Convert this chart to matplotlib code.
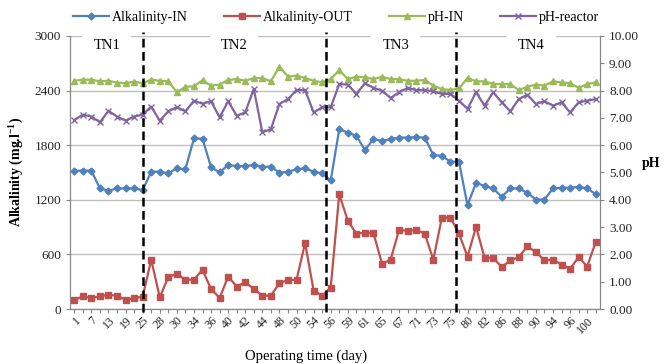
#!/usr/bin/env python3
"""Alkalinity and pH over operating time, phases TN1-TN4"""

import matplotlib
matplotlib.use('Agg')
import matplotlib.pyplot as plt
from matplotlib.ticker import FormatStrFormatter

plt.rcParams['font.family'] = ['Liberation Serif', 'DejaVu Serif']
plt.rcParams['mathtext.default'] = 'regular'

# sampling days (every other one is labelled on the axis)
days = [1, 4, 7, 10, 13, 16, 19, 22, 25, 26, 28, 29, 30, 32, 34, 35, 36, 38,
        40, 41, 42, 43, 44, 46, 48, 49, 50, 52, 54, 55, 56, 57, 59, 60, 61, 63,
        65, 66, 67, 69, 71, 72, 73, 74, 75, 78, 80, 81, 82, 84, 86, 87, 88, 89,
        90, 92, 94, 95, 96, 98, 100, 101]

alk_in = [1520, 1520, 1520, 1325, 1299, 1325, 1325, 1325, 1306, 1509, 1509, 1490,
          1546, 1535, 1875, 1872, 1557, 1501, 1582, 1571, 1571, 1582, 1564, 1564,
          1498, 1509, 1535, 1546, 1509, 1490, 1413, 1976, 1939, 1903, 1748, 1866,
          1847, 1866, 1884, 1884, 1888, 1884, 1693, 1682, 1619, 1619, 1141, 1387,
          1351, 1325, 1233, 1325, 1325, 1277, 1203, 1203, 1325, 1332, 1332, 1343,
          1325, 1262]

alk_out = [99, 140, 121, 140, 155, 147, 99, 121, 136, 541, 129, 350, 386, 320, 324,
           431, 221, 121, 357, 247, 294, 221, 147, 147, 283, 320, 320, 725, 202, 147,
           235, 1262, 968, 828, 839, 835, 497, 541, 872, 857, 872, 828, 541, 1005,
           1005, 830, 575, 902, 563, 563, 460, 534, 570, 688, 626, 534, 541, 489,
           442, 570, 467, 736]

ph_in = [8.36, 8.40, 8.40, 8.34, 8.36, 8.29, 8.27, 8.33, 8.27, 8.40, 8.36, 8.34,
         7.94, 8.14, 8.16, 8.38, 8.18, 8.22, 8.39, 8.42, 8.36, 8.46, 8.46, 8.34,
         8.88, 8.51, 8.55, 8.46, 8.36, 8.30, 8.42, 8.75, 8.42, 8.51, 8.49, 8.42,
         8.51, 8.42, 8.42, 8.36, 8.36, 8.39, 8.18, 8.06, 8.02, 8.08, 8.46, 8.34,
         8.34, 8.24, 8.24, 8.24, 8.02, 8.14, 8.22, 8.18, 8.34, 8.30, 8.27, 8.10,
         8.24, 8.30]

ph_reactor = [6.92, 7.12, 7.05, 6.84, 7.26, 7.05, 6.90, 7.05, 7.12, 7.41, 6.90, 7.24,
              7.39, 7.24, 7.63, 7.52, 7.61, 7.02, 7.61, 7.08, 7.20, 8.06, 6.47, 6.59,
              7.51, 7.69, 8.02, 8.02, 7.20, 7.39, 7.39, 8.24, 8.22, 7.88, 8.27, 8.10,
              8.00, 7.73, 7.94, 8.10, 8.02, 8.02, 7.97, 7.88, 7.88, 7.63, 7.33, 7.94,
              7.45, 7.94, 7.57, 7.24, 7.69, 7.85, 7.51, 7.61, 7.45, 7.57, 7.20, 7.57,
              7.63, 7.69]

phase_names = ['TN1', 'TN2', 'TN3', 'TN4']
phase_label_pos = [3.8, 18.7, 37.6, 53.5]   # category positions of the phase labels
phase_bounds = [8, 29.5, 44.6]              # dashed separators (category positions)

GRID = '#BEBEBE'
AXC = '#868686'

x = list(range(len(days)))

fig = plt.figure(figsize=(6.64, 3.64), dpi=100)
ax = fig.add_axes([70 / 664, 1 - 309 / 364, 530 / 664, 273 / 364])
ax2 = ax.twinx()

l1, = ax.plot(x, alk_in, color='#4F81BD', lw=1.6, marker='D', ms=3.5, zorder=3)
l2, = ax.plot(x, alk_out, color='#C0504D', lw=1.6, marker='s', ms=3.8, zorder=3)
l3, = ax2.plot(x, ph_in, color='#9BBB59', lw=1.6, marker='^', ms=4.2, zorder=3)
l4, = ax2.plot(x, ph_reactor, color='#8064A2', lw=1.6, marker='x', ms=4.5, mew=1.0, zorder=3)

ax.set_xlim(-0.5, len(days) - 0.5)
ax.set_ylim(0, 3000)
ax.set_yticks(range(0, 3001, 600))
ax2.set_ylim(0, 10)
ax2.set_yticks(range(0, 11))
ax2.yaxis.set_major_formatter(FormatStrFormatter('%.2f'))

ax.yaxis.grid(True, color=GRID, lw=1)
ax.set_axisbelow(True)

ax.set_xticks(x)
ax.set_xticklabels([str(d) if i % 2 == 0 else '' for i, d in enumerate(days)],
                   rotation=45, ha='right', va='top', rotation_mode='anchor', fontsize=8.5)

for a in (ax, ax2):
    a.spines['top'].set_visible(False)
    for s in ('left', 'right', 'bottom'):
        a.spines[s].set_color(AXC)
    a.tick_params(colors=AXC, labelcolor='#222222', length=3, width=0.8, labelsize=9.5)
ax.tick_params(axis='x', labelsize=8.5, pad=1)

for b in phase_bounds:
    ax2.axvline(b, ymin=-0.012, ymax=1.015, color='black', lw=1.8,
                ls=(0, (3.5, 1.8)), clip_on=False, zorder=4)

for name, px in zip(phase_names, phase_label_pos):
    ax2.text(px, 9.67, name, ha='center', va='center', fontsize=10.5, zorder=5,
             bbox=dict(boxstyle='square,pad=0.75', fc='white', ec='none'))

fig.legend([l1, l2, l3, l4], ['Alkalinity-IN', 'Alkalinity-OUT', 'pH-IN', 'pH-reactor'],
           loc='center', bbox_to_anchor=(336 / 664, 1 - 17 / 364), ncol=4, frameon=False,
           fontsize=10, handlelength=2.6, handletextpad=0.2, columnspacing=2.6)

fig.text(17 / 664, 1 - 172 / 364, 'Alkalinity (mg.l$^{-1}$)', rotation=90,
         ha='center', va='center', fontsize=10, fontweight='bold')
fig.text(651 / 664, 1 - 163 / 364, 'pH', ha='center', va='center',
         fontsize=10, fontweight='bold')
fig.text(306 / 664, 1 - 356 / 364, 'Operating time (day)', ha='center', va='center',
         fontsize=10.5)

fig.savefig('out.png', dpi=100, facecolor='white')
plt.close()
